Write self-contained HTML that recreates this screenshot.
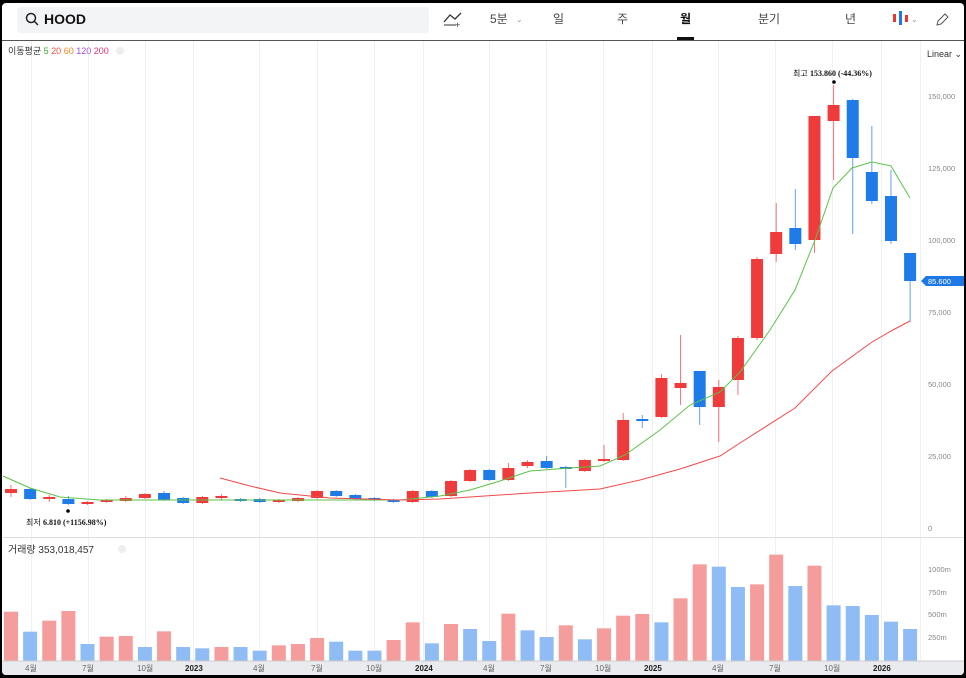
<!DOCTYPE html>
<html><head><meta charset="utf-8"><style>
body{margin:0;width:966px;height:678px;background:#000;overflow:hidden;font-family:"Liberation Sans","Noto Sans CJK KR",sans-serif}
#w{position:absolute;left:2px;top:3px;width:962px;height:672px;background:#fff;border-radius:4px;overflow:hidden}
</style></head><body><div id="w">
<svg width="962" height="672" viewBox="2 3 962 672" xmlns="http://www.w3.org/2000/svg" style="position:absolute;left:0;top:0" font-family="Liberation Sans, Noto Sans CJK KR, sans-serif">
<rect x="17" y="7" width="412" height="26" rx="4" fill="#f3f4f6"/>
<circle cx="31" cy="18" r="4.5" fill="none" stroke="#222" stroke-width="1.5"/><line x1="34" y1="21" x2="38" y2="25" stroke="#222" stroke-width="1.5"/>
<text x="44" y="24" font-size="14" font-weight="bold" fill="#111">HOOD</text>
<polyline points="444,22 450,15 455,19 461,13" fill="none" stroke="#333" stroke-width="1.3"/><line x1="444" y1="25" x2="456" y2="25" stroke="#333"/><text x="455" y="28" font-size="9" fill="#333">+</text>
<text x="490" y="23" font-size="12" fill="#444">5분</text><text x="516" y="22" font-size="8" fill="#999">⌄</text>
<text x="553" y="23" font-size="12" fill="#444">일</text>
<text x="617" y="23" font-size="12" fill="#444">주</text>
<text x="680" y="23" font-size="12" font-weight="bold" fill="#111">월</text>
<rect x="677" y="37" width="17" height="3" fill="#111"/>
<text x="758" y="23" font-size="12" fill="#444">분기</text>
<text x="845" y="23" font-size="12" fill="#444">년</text>
<rect x="893" y="14" width="3" height="8" fill="#e53935"/><rect x="899" y="11" width="3" height="14" fill="#1e78e6"/><rect x="905" y="15" width="3" height="7" fill="#e53935"/>
<text x="911" y="22" font-size="8" fill="#999">⌄</text>
<path d="M937 25 L938 21 L945 14 L948 17 L941 24 Z" fill="none" stroke="#555"/>
<line x1="2" y1="40.5" x2="964" y2="40.5" stroke="#555" stroke-width="1"/>
<g id="grid" stroke="#eef0f3"></g>
<text x="8" y="54" font-size="9" fill="#333">이동평균 <tspan fill="#2eb82e">5</tspan> <tspan fill="#f0503a">20</tspan> <tspan fill="#f08a1c">60</tspan> <tspan fill="#a04de0">120</tspan> <tspan fill="#e0357c">200</tspan></text>
<circle cx="120" cy="51" r="4" fill="#eee"/>
<text x="927" y="57" font-size="9" fill="#333">Linear ⌄</text>
<g font-size="7.5" fill="#888">
<text x="928" y="99">150,000</text><text x="928" y="171">125,000</text><text x="928" y="243">100,000</text><text x="928" y="315">75,000</text><text x="928" y="387">50,000</text><text x="928" y="459">25,000</text><text x="928" y="531">0</text>
<text x="928" y="572">1000m</text><text x="928" y="595">750m</text><text x="928" y="617">500m</text><text x="928" y="640">250m</text>
</g>
<line x1="2" y1="537.5" x2="964" y2="537.5" stroke="#ddd"/>
<g id="c"></g>
<polyline id="g5" fill="none" stroke="#5cc24a" stroke-width="1" points="3,476 30,488 60,497 100,500 200,500 300,500 400,500 440,496 470,490 500,481 530,471 570,468 600,466 625,455 660,430 690,405 720,392 740,372 770,330 795,290 815,240 833,188 852,168 872,162 891,166 910,198"/>
<polyline fill="none" stroke="#f04a4a" stroke-width="1" points="220,478 250,486 280,493 330,498 400,500 440,499 470,497 530,493 600,489 640,480 680,469 720,456 740,443 795,408 832,371 872,342 891,331 910,321"/>
<text x="793" y="76" font-size="8" fill="#111">최고  <tspan font-family="Liberation Serif" font-weight="bold">153.860 (-44.36%)</tspan></text>
<circle cx="834" cy="82" r="1.8" fill="#000"/>
<text x="26" y="525" font-size="8" fill="#111">최저  <tspan font-family="Liberation Serif" font-weight="bold">6.810 (+1156.98%)</tspan></text>
<circle cx="68" cy="511" r="1.8" fill="#000"/>
<path d="M921 281 L926 276 L964 276 L964 286 L926 286 Z" fill="#1e78e6"/>
<text x="928" y="284" font-size="7.5" fill="#fff">85.600</text>
<text x="8" y="553" font-size="10" fill="#333">거래량 353,018,457</text><circle cx="122" cy="549" r="4" fill="#eee"/>
<rect x="2" y="661" width="962" height="14" fill="#e9ebee"/>
<line x1="2" y1="661" x2="964" y2="661" stroke="#ccc"/>
<g font-size="8" fill="#666">
<text x="25" y="671">4월</text><text x="82" y="671">7월</text><text x="137" y="671">10월</text><text x="185" y="671" fill="#222" font-weight="bold">2023</text>
<text x="253" y="671">4월</text><text x="311" y="671">7월</text><text x="366" y="671">10월</text><text x="415" y="671" fill="#222" font-weight="bold">2024</text>
<text x="483" y="671">4월</text><text x="540" y="671">7월</text><text x="595" y="671">10월</text><text x="644" y="671" fill="#222" font-weight="bold">2025</text>
<text x="712" y="671">4월</text><text x="769" y="671">7월</text><text x="824" y="671">10월</text><text x="873" y="671" fill="#222" font-weight="bold">2026</text>
</g>
</svg></div>
<script>
var NS="http://www.w3.org/2000/svg";
function el(p,t,a){var e=document.createElementNS(NS,t);for(var k in a)e.setAttribute(k,a[k]);p.appendChild(e);return e;}
var grid=document.getElementById('grid');
[31,88,145,193,259,317,374,423,489,546,603,652,718,775,832,881,920].forEach(function(x){el(grid,'line',{x1:x+.5,y1:41,x2:x+.5,y2:661});});
var R="#ef3b3b",B="#1e7be8";
var C=[[489,493,485,497,R],[489,499,488,500,B],[497,499,495,502,R],[499,504,496,505,B],[502,504,501,505,R],[500,502,499,503,R],[498,501,496,502,R],[494,498,493,499,R],[493,500,491,501,B],[498,503,497,504,B],[497,503,496,504,R],[496,498,494,500,R],[499,501,498,502,B],[499,502,498,503,B],[500,502,499,503,R],[498,501,497,502,R],[491,498,490,499,R],[491,496,490,497,B],[495,499,494,500,B],[498,500,497,501,B],[500,502,499,503,B],[491,502,490,503,R],[491,497,490,498,B],[481,496,480,497,R],[470,481,469,482,R],[470,480,469,481,B],[468,480,463,481,R],[462,466,460,468,R],[461,468,456,469,B],[467,469,466,488,B],[460,471,459,472,R],[459,461,445,462,R],[420,460,413,461,R],[419,421,415,428,B],[378,417,374,418,R],[383,388,335,405,R],[371,407,371,425,B],[387,407,380,442,R],[338,380,336,395,R],[259,338,257,340,R],[232,254,203,262,R],[228,244,189,250,B],[116,240,116,253,R],[105,121,85,180,R],[100,158,99,234,B],[172,201,126,204,B],[196,241,170,244,B],[253,281,253,322,B]];
var V=[[245,R],[305,B],[272,R],[243,R],[342,B],[320,R],[318,R],[351,B],[304,R],[351,B],[355,B],[351,R],[351,B],[362,B],[346,R],[342,R],[324,R],[335,B],[362,B],[362,B],[330,R],[277,R],[340,B],[282,R],[297,B],[333,B],[251,R],[301,B],[321,B],[286,R],[328,B],[295,R],[257,R],[252,R],[277,B],[205,R],[103,R],[110,B],[171,B],[163,R],[74,R],[168,B],[107,R],[226,B],[228,B],[255,B],[275,B],[297,B]];
var g=document.getElementById('c');
C.forEach(function(c,i){var x=11+i*19.13;
el(g,'line',{x1:x,y1:c[2],x2:x,y2:c[3],stroke:c[4],'stroke-width':1,opacity:.7});
el(g,'rect',{x:x-6,y:c[0],width:12,height:Math.max(1.5,c[1]-c[0]),fill:c[4]});
var v=V[i],t=530+v[0]/3;
el(g,'rect',{x:x-7,y:t,width:14,height:661-t,fill:v[1]==R?"#f59c9c":"#8fbcf5"});});
</script>
</body></html>
